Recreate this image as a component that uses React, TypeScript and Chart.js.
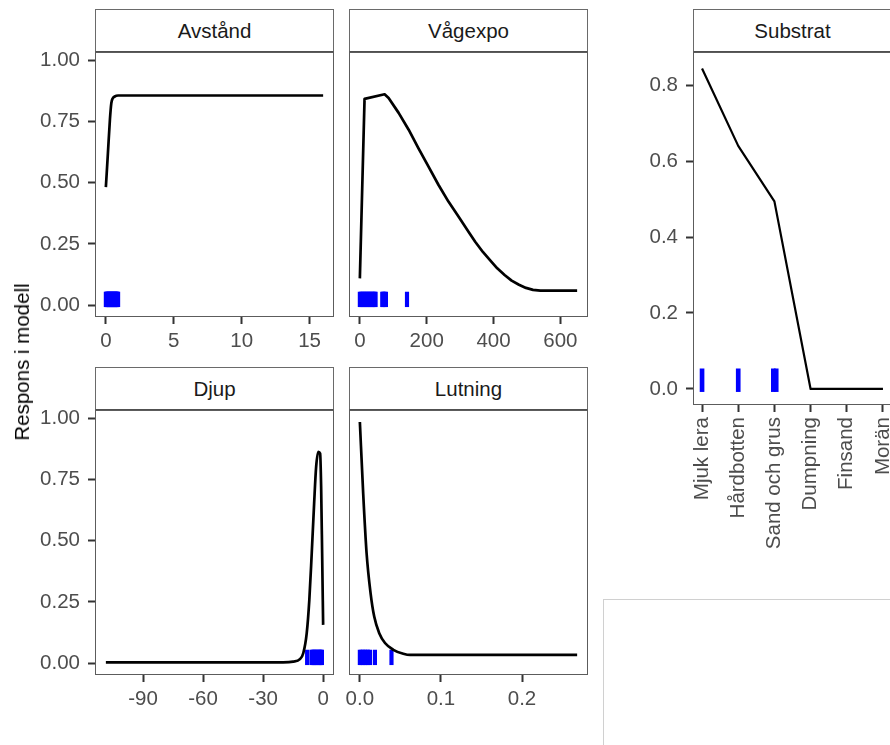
import React, { useEffect, useRef } from "react";
import { Chart, registerables } from "chart.js";

Chart.register(...registerables);

const FONT = "'Liberation Sans', Arial, Helvetica, sans-serif";
const FS = 20.5;

// ---------- data ----------
const avstandX = [0, 0.15, 0.3, 0.4, 0.5, 0.65, 0.9, 16];
const avstandY = [0.482, 0.62, 0.76, 0.825, 0.845, 0.853, 0.857, 0.857];
const avstandRug = [0, 0.05, 0.1, 0.15, 0.2, 0.25, 0.3, 0.35, 0.4, 0.45, 0.5, 0.55, 0.6, 0.65, 0.7, 0.75, 0.8, 0.85, 0.9];

const vagexpoX = [0, 14, 74, 86, 116, 146, 175, 205, 235, 265, 295, 325, 345, 368, 390, 411, 433, 454, 476, 497, 518, 540, 650];
const vagexpoY = [0.109, 0.843, 0.862, 0.847, 0.786, 0.717, 0.642, 0.567, 0.492, 0.423, 0.362, 0.3, 0.259, 0.217, 0.183, 0.15, 0.123, 0.1, 0.083, 0.07, 0.062, 0.059, 0.059];
const vagexpoRug = [0, 4, 8, 12, 16, 20, 24, 28, 32, 36, 40, 44, 47, 67, 70, 74, 78, 141];

const djupX = [-108.6, -20, -15, -11.6, -9.9, -8.2, -6.9, -5.7, -4.5, -3.5, -2.4, -1.5, -1.0, -0.5, 0];
const djupY = [0.003, 0.003, 0.006, 0.016, 0.041, 0.122, 0.258, 0.449, 0.653, 0.802, 0.864, 0.857, 0.72, 0.449, 0.156];
const djupRug = [-8.0, -5.8, -5.2, -4.6, -4.0, -3.4, -2.8, -2.2, -1.6, -1.0, -0.6];

const lutningX = [0, 0.0041, 0.0083, 0.0132, 0.0177, 0.0239, 0.031, 0.0413, 0.0536, 0.062, 0.268];
const lutningY = [0.986, 0.694, 0.449, 0.286, 0.19, 0.122, 0.082, 0.054, 0.038, 0.033, 0.033];
const lutningRug = [0, 0.002, 0.004, 0.006, 0.008, 0.01, 0.0125, 0.0186, 0.039];

const substratLabels = ["Mjuk lera", "Hårdbotten", "Sand och grus", "Dumpning", "Finsand", "Morän"];
const substratY = [0.844, 0.64, 0.494, 0, 0, 0];
const substratRug = [1, 2, 2.97, 3.05];

const rugSpan = [-0.007, 0.053];

const leftYTicks = [0, 0.25, 0.5, 0.75, 1];
const substratYTicks = [0, 0.2, 0.4, 0.6, 0.8];
const avstandTicks = [0, 5, 10, 15];
const vagexpoTicks = [0, 200, 400, 600];
const djupTicks = [-90, -60, -30, 0];
const lutningTicks = [0, 0.1, 0.2];
const substratTicks = [1, 2, 3, 4, 5, 6];

// ---------- helpers ----------
const borderPlugin = {
  id: "panelBorder",
  afterDatasetsDraw(chart: any) {
    const { ctx, chartArea: a } = chart;
    ctx.save();
    ctx.strokeStyle = "#5c5c5c";
    ctx.lineWidth = 1;
    ctx.strokeRect(a.left + 0.5, a.top + 0.5, a.right - a.left - 1, a.bottom - a.top - 1);
    ctx.restore();
  },
};

type Spec = {
  plotLeft: number;
  plotTop: number;
  plotW: number;
  plotH: number;
  yAxisW: number;
  xAxisH: number;
  padL: number;
  padR: number;
  padT: number;
  xs: number[];
  ys: number[];
  rug: number[];
  xMin: number;
  xMax: number;
  xTicks: number[];
  xFmt: (v: number) => string;
  yMin: number;
  yMax: number;
  yTicks: number[];
  yFmt: (v: number) => string;
  showY: boolean;
  rotateX?: boolean;
  smooth: boolean;
  lineWidth: number;
  rugW: number;
  yPad: number;
};

function Panel({ spec }: { spec: Spec }) {
  const ref = useRef<HTMLCanvasElement | null>(null);
  const w = spec.padL + spec.yAxisW + spec.plotW + spec.padR;
  const h = spec.padT + spec.plotH + spec.xAxisH;
  useEffect(() => {
    if (!ref.current) return;
    const lineData = spec.xs.map((x, i) => ({ x, y: spec.ys[i] }));
    const rugData = spec.rug.map((x) => ({ x, y: rugSpan }));
    const chart = new Chart(ref.current, {
      type: "line",
      data: {
        datasets: [
          {
            type: "line",
            data: lineData,
            borderColor: "#000000",
            borderWidth: spec.lineWidth,
            pointRadius: 0,
            tension: 0,
            cubicInterpolationMode: spec.smooth ? "monotone" : "default",
            borderJoinStyle: "round",
            fill: false,
            order: 0,
          } as any,
          {
            type: "bar",
            data: rugData,
            backgroundColor: "#0000ff",
            borderWidth: 0,
            barThickness: spec.rugW,
            grouped: false,
            order: 1,
          } as any,
        ],
      },
      options: {
        animation: false,
        responsive: false,
        devicePixelRatio: 1,
        events: [],
        layout: { padding: { left: spec.padL, right: spec.padR, top: spec.padT, bottom: 0 } },
        plugins: { legend: { display: false }, tooltip: { enabled: false }, title: { display: false } },
        scales: {
          x: {
            type: "linear",
            min: spec.xMin,
            max: spec.xMax,
            offset: false,
            afterBuildTicks: (s: any) => {
              s.ticks = spec.xTicks.map((v) => ({ value: v }));
            },
            afterFit: (s: any) => {
              s.height = spec.xAxisH;
              s.paddingLeft = 0;
              s.paddingRight = 0;
              s.paddingTop = 0;
              s.paddingBottom = 0;
            },
            grid: {
              display: true,
              drawOnChartArea: false,
              drawTicks: true,
              tickLength: 7,
              tickWidth: 2,
              tickColor: "#333333",
              offset: false,
            },
            border: { display: false },
            ticks: {
              autoSkip: false,
              maxRotation: spec.rotateX ? 90 : 0,
              minRotation: spec.rotateX ? 90 : 0,
              padding: spec.rotateX ? 5 : 5,
              color: "#4d4d4d",
              font: { family: FONT, size: FS },
              callback: (v: any) => spec.xFmt(Number(v)),
            },
          },
          y: {
            type: "linear",
            display: spec.showY,
            min: spec.yMin,
            max: spec.yMax,
            afterBuildTicks: (s: any) => {
              s.ticks = spec.yTicks.map((v) => ({ value: v }));
            },
            afterFit: (s: any) => {
              s.width = spec.showY ? spec.yAxisW : 0;
              s.paddingLeft = 0;
              s.paddingRight = 0;
              s.paddingTop = 0;
              s.paddingBottom = 0;
            },
            grid: {
              display: true,
              drawOnChartArea: false,
              drawTicks: true,
              tickLength: 7,
              tickWidth: 2,
              tickColor: "#333333",
            },
            border: { display: false },
            ticks: {
              autoSkip: false,
              padding: spec.yPad,
              color: "#4d4d4d",
              font: { family: FONT, size: FS },
              callback: (v: any) => spec.yFmt(Number(v)),
            },
          },
        },
      } as any,
      plugins: [borderPlugin],
    });
    return () => chart.destroy();
  }, []);
  return (
    <canvas
      ref={ref}
      width={w}
      height={h}
      style={{
        position: "absolute",
        left: spec.plotLeft - spec.yAxisW - spec.padL,
        top: spec.plotTop - spec.padT,
        width: w,
        height: h,
      }}
    />
  );
}

function Strip({ left, top, width, height, label }: { left: number; top: number; width: number; height: number; label: string }) {
  return (
    <div
      style={{
        position: "absolute",
        left,
        top,
        width,
        height,
        boxSizing: "border-box",
        border: "1px solid #6a6a6a",
        borderBottom: "1px solid #505050",
        background: "#ffffff",
        color: "#1a1a1a",
        fontFamily: FONT,
        fontSize: FS,
        display: "flex",
        alignItems: "center",
        justifyContent: "center",
        whiteSpace: "nowrap",
      }}
    >
      {label}
    </div>
  );
}

const f2 = (v: number) => v.toFixed(2);
const f1 = (v: number) => v.toFixed(1);
const f0 = (v: number) => String(Math.round(v));

const COL1 = 95;
const COL2 = 349;
const ROW1 = 52;
const ROW2 = 410;
const PW = 239;
const PH = 265;
const STRIP_H = 43;
const LY_MIN = -0.049;
const LY_MAX = 1.035;

const specs: { spec: Spec; label: string }[] = [
  {
    label: "Avstånd",
    spec: {
      plotLeft: COL1, plotTop: ROW1, plotW: PW, plotH: PH, yAxisW: 62, xAxisH: 45, padL: 0, padR: 14, padT: 3,
      xs: avstandX, ys: avstandY, rug: avstandRug,
      xMin: -0.8, xMax: 16.8, xTicks: avstandTicks, xFmt: f0,
      yMin: LY_MIN, yMax: LY_MAX, yTicks: leftYTicks, yFmt: f2, showY: true, smooth: true, lineWidth: 2.7, rugW: 3.5, yPad: 8,
    },
  },
  {
    label: "Vågexpo",
    spec: {
      plotLeft: COL2, plotTop: ROW1, plotW: PW, plotH: PH, yAxisW: 0, xAxisH: 45, padL: 15, padR: 20, padT: 3,
      xs: vagexpoX, ys: vagexpoY, rug: vagexpoRug,
      xMin: -32.5, xMax: 682.5, xTicks: vagexpoTicks, xFmt: f0,
      yMin: LY_MIN, yMax: LY_MAX, yTicks: leftYTicks, yFmt: f2, showY: false, smooth: false, lineWidth: 2.7, rugW: 3.5, yPad: 8,
    },
  },
  {
    label: "Djup",
    spec: {
      plotLeft: COL1, plotTop: ROW2, plotW: PW, plotH: PH, yAxisW: 62, xAxisH: 45, padL: 0, padR: 14, padT: 3,
      xs: djupX, ys: djupY, rug: djupRug,
      xMin: -114.03, xMax: 5.43, xTicks: djupTicks, xFmt: f0,
      yMin: LY_MIN, yMax: LY_MAX, yTicks: leftYTicks, yFmt: f2, showY: true, smooth: true, lineWidth: 2.7, rugW: 3.5, yPad: 8,
    },
  },
  {
    label: "Lutning",
    spec: {
      plotLeft: COL2, plotTop: ROW2, plotW: PW, plotH: PH, yAxisW: 0, xAxisH: 45, padL: 15, padR: 20, padT: 3,
      xs: lutningX, ys: lutningY, rug: lutningRug,
      xMin: -0.0134, xMax: 0.2814, xTicks: lutningTicks, xFmt: f1,
      yMin: LY_MIN, yMax: LY_MAX, yTicks: leftYTicks, yFmt: f2, showY: false, smooth: true, lineWidth: 2.7, rugW: 3.5, yPad: 8,
    },
  },
  {
    label: "Substrat",
    spec: {
      plotLeft: 693, plotTop: ROW1, plotW: 199, plotH: 353, yAxisW: 62, xAxisH: 180, padL: 0, padR: 0, padT: 3,
      xs: substratTicks, ys: substratY, rug: substratRug,
      xMin: 0.75, xMax: 6.25, xTicks: substratTicks, xFmt: (v: number) => substratLabels[Math.round(v) - 1] ?? "",
      yMin: -0.04225, yMax: 0.88725, yTicks: substratYTicks, yFmt: f1, showY: true, rotateX: true, smooth: false, lineWidth: 2.2, rugW: 4, yPad: 8,
    },
  },
];

export default function App() {
  return (
    <div style={{ position: "absolute", left: 0, top: 0, width: 890, height: 745, overflow: "hidden", background: "#ffffff" }}>
      {specs.map(({ spec, label }) => (
        <React.Fragment key={label}>
          <Panel spec={spec} />
          <Strip left={spec.plotLeft} top={spec.plotTop - STRIP_H} width={spec.plotW} height={STRIP_H} label={label} />
        </React.Fragment>
      ))}
      <div
        style={{
          position: "absolute",
          left: 22,
          top: 362,
          transform: "translate(-50%, -50%) rotate(-90deg)",
          whiteSpace: "nowrap",
          fontFamily: FONT,
          fontSize: FS,
          color: "#000000",
        }}
      >
        Respons i modell
      </div>
      <div
        style={{
          position: "absolute",
          left: 603,
          top: 599,
          width: 400,
          height: 300,
          borderTop: "1px solid #d0d0d0",
          borderLeft: "1px solid #d0d0d0",
        }}
      />
    </div>
  );
}
